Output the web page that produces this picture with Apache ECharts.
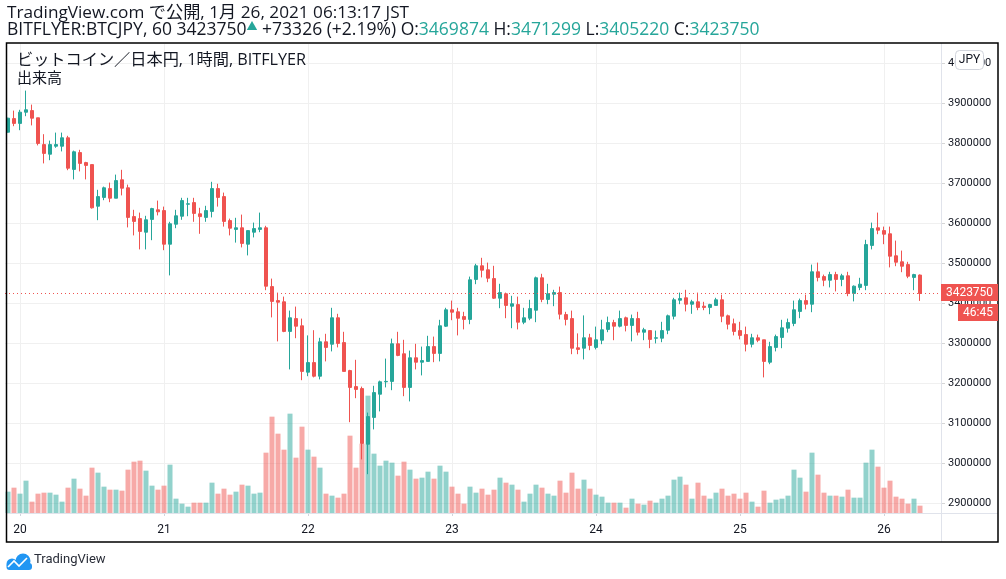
<!DOCTYPE html>
<html>
<head>
<meta charset="utf-8">
<script src="https://cdn.jsdelivr.net/npm/echarts@6/dist/echarts.min.js"></script>
<style>
  html, body { margin: 0; padding: 0; background: #fff; }
  #main { width: 1006px; height: 579px; }
</style>
</head>
<body>
<div id="main"></div>
<script>
// 1時間足 BITFLYER:BTCJPY, 1/19 22:00 〜 1/26 06:00 (JST)
const opens = [
  3827000,3861000,3849000,3877000,3881000,3863000,3796000,3772000,3792000,3792000,
  3813000,3734000,3776000,3751000,3746000,3642000,3664000,3686000,3662000,3708000,
  3688000,3616000,3611000,3577000,3609000,3633000,3631000,3547000,3597000,3617000,
  3647000,3651000,3623000,3614000,3629000,3686000,3666000,3606000,3584000,3588000,
  3547000,3577000,3584000,3588000,3441000,3406000,3403000,3329000,3361000,3343000,
  3227000,3251000,3217000,3303000,3297000,3363000,3301000,3231000,3191000,3186000,
  3047000,3114000,3172000,3203000,3204000,3298000,3273000,3189000,3263000,3252000,
  3254000,3291000,3274000,3342000,3383000,3378000,3366000,3359000,3459000,3493000,
  3483000,3461000,3412000,3423000,3392000,3396000,3352000,3362000,3382000,3463000,
  3409000,3422000,3426000,3371000,3361000,3288000,3287000,3313000,3289000,3307000,
  3334000,3351000,3342000,3363000,3344000,3361000,3327000,3331000,3312000,3312000,
  3332000,3367000,3407000,3413000,3397000,3403000,3392000,3389000,3394000,3408000,
  3368000,3348000,3331000,3321000,3297000,3313000,3308000,3252000,3289000,3314000,
  3337000,3349000,3379000,3406000,3397000,3478000,3466000,3457000,3471000,3459000,
  3468000,3424000,3439000,3444000,3544000,3588000,3581000,3573000,3518000,3503000,
  3496000,3464000,3469874
];
const highs = [
  3863000,3881000,3883000,3931000,3896000,3863000,3822000,3806000,3826000,3826000,
  3818000,3781000,3783000,3753000,3746000,3683000,3691000,3701000,3721000,3733000,
  3696000,3633000,3626000,3618000,3638000,3656000,3641000,3603000,3633000,3663000,
  3663000,3663000,3638000,3643000,3703000,3698000,3676000,3611000,3613000,3621000,
  3581000,3601000,3626000,3593000,3461000,3426000,3416000,3381000,3391000,3361000,
  3319000,3332000,3313000,3323000,3388000,3373000,3328000,3233000,3258000,3191000,
  3126000,3193000,3206000,3261000,3311000,3328000,3308000,3281000,3298000,3291000,
  3318000,3316000,3358000,3388000,3406000,3388000,3378000,3466000,3498000,3513000,
  3501000,3493000,3448000,3426000,3418000,3416000,3388000,3408000,3466000,3473000,
  3448000,3433000,3441000,3378000,3381000,3324000,3369000,3323000,3341000,3358000,
  3366000,3358000,3381000,3366000,3371000,3378000,3338000,3331000,3331000,3353000,
  3371000,3413000,3426000,3433000,3408000,3426000,3403000,3398000,3413000,3421000,
  3371000,3361000,3353000,3341000,3323000,3321000,3308000,3303000,3321000,3358000,
  3361000,3406000,3411000,3421000,3496000,3501000,3471000,3478000,3478000,3473000,
  3478000,3444000,3463000,3558000,3601000,3626000,3591000,3591000,3556000,3531000,
  3503000,3473000,3471299
];
const lows = [
  3826000,3842000,3832000,3867000,3844000,3794000,3749000,3757000,3788000,3779000,
  3732000,3709000,3729000,3709000,3636000,3607000,3657000,3652000,3662000,3669000,
  3589000,3569000,3534000,3534000,3557000,3619000,3532000,3469000,3587000,3608000,
  3617000,3603000,3573000,3603000,3614000,3641000,3591000,3569000,3551000,3539000,
  3519000,3564000,3577000,3432000,3364000,3304000,3327000,3234000,3312000,3207000,
  3217000,3214000,3209000,3254000,3279000,3289000,3229000,3102000,3162000,3009000,
  2972000,3084000,3129000,3189000,3182000,3267000,3167000,3154000,3234000,3219000,
  3254000,3252000,3254000,3340000,3357000,3319000,3334000,3347000,3447000,3464000,
  3452000,3410000,3387000,3362000,3337000,3334000,3347000,3357000,3352000,3402000,
  3397000,3392000,3359000,3344000,3272000,3272000,3259000,3282000,3284000,3297000,
  3327000,3307000,3339000,3329000,3304000,3319000,3307000,3287000,3299000,3302000,
  3322000,3359000,3397000,3379000,3373000,3382000,3382000,3372000,3394000,3352000,
  3334000,3319000,3309000,3279000,3289000,3302000,3214000,3247000,3279000,3287000,
  3326000,3342000,3362000,3384000,3377000,3454000,3442000,3439000,3429000,3442000,
  3417000,3404000,3432000,3432000,3534000,3572000,3547000,3489000,3492000,3477000,
  3462000,3432000,3405220
];
const closes = [
  3862000,3849000,3877000,3883000,3862000,3799000,3774000,3796000,3796000,3813000,
  3737000,3778000,3749000,3744000,3638000,3666000,3688000,3662000,3706000,3687000,
  3614000,3604000,3579000,3608000,3636000,3628000,3547000,3598000,3618000,3656000,
  3648000,3624000,3616000,3631000,3686000,3664000,3604000,3587000,3588000,3549000,
  3581000,3586000,3588000,3442000,3404000,3402000,3329000,3363000,3342000,3229000,
  3251000,3217000,3303000,3289000,3363000,3299000,3229000,3189000,3184000,3049000,
  3116000,3176000,3203000,3204000,3298000,3269000,3189000,3263000,3252000,3256000,
  3291000,3274000,3343000,3383000,3377000,3362000,3359000,3458000,3493000,3482000,
  3462000,3412000,3426000,3394000,3398000,3352000,3363000,3386000,3463000,3409000,
  3423000,3426000,3372000,3359000,3287000,3284000,3313000,3294000,3308000,3333000,
  3351000,3342000,3361000,3344000,3361000,3327000,3333000,3309000,3313000,3331000,
  3368000,3408000,3411000,3397000,3403000,3389000,3389000,3396000,3408000,3367000,
  3347000,3329000,3319000,3297000,3313000,3307000,3254000,3291000,3316000,3338000,
  3351000,3383000,3406000,3397000,3478000,3464000,3457000,3471000,3459000,3468000,
  3424000,3442000,3447000,3546000,3586000,3582000,3572000,3517000,3502000,3492000,
  3467000,3471000,3423750
];
// 出来高 (相対値)
const volumes = [
  64,76,58,97,34,58,61,61,55,34,
  76,103,73,52,136,121,79,70,70,67,
  130,154,157,127,82,70,82,145,43,28,
  19,31,31,31,91,58,73,55,64,85,
  82,58,61,181,289,238,190,298,166,259,
  190,169,136,58,52,46,58,232,136,208,
  352,178,142,157,151,112,154,130,103,106,
  124,103,142,124,79,58,28,79,61,73,
  55,70,106,91,85,70,34,58,85,76,
  58,52,97,61,121,73,100,73,55,49,
  31,31,31,16,43,28,25,37,31,43,
  52,100,109,85,43,91,52,43,61,73,
  52,58,43,61,34,19,67,31,40,43,
  52,130,106,64,181,115,61,52,52,49,
  70,46,46,151,190,139,76,97,49,43,
  28,43,22
];
const lastPrice = 3423750;

// 時間軸: 1/19 22:00 から 1時間ごと (右端に空き3本)
const times = [];
for (let k = 0; k < 156; k++) {
  const h = (22 + k) % 24;
  const d = 19 + Math.floor((22 + k) / 24);
  times.push(d + ' ' + String(h).padStart(2, '0') + ':00');
}
const isMidnight = (idx) => times[idx].endsWith(' 00:00');

const UP = '#26a69a', DOWN = '#ef5350';
const UP_VOL = 'rgba(38,166,154,0.5)', DOWN_VOL = 'rgba(239,83,80,0.5)';
const TEXT = '#131722';
const FONT = 'Roboto, "Noto Sans CJK JP", sans-serif';
const HFONT = '"Open Sans", "Noto Sans CJK JP", sans-serif';

const candleData = closes.map((c, i) => [opens[i], c, lows[i], highs[i]]);
const volData = volumes.map((v, i) => ({
  value: v,
  itemStyle: { color: closes[i] >= opens[i] ? UP_VOL : DOWN_VOL }
}));

const chart = echarts.init(document.getElementById('main'));
chart.setOption({
  animation: false,
  backgroundColor: '#fff',
  textStyle: { fontFamily: FONT },
  grid: [
    { left: 5, top: 63, width: 936, height: 440 },   // price
    { left: 5, top: 363, width: 936, height: 150 },  // volume
    { left: 8, top: 44, width: 930, height: 469 }    // day lines + labels
  ],
  xAxis: [
    { gridIndex: 0, type: 'category', data: times, boundaryGap: true, show: false },
    { gridIndex: 1, type: 'category', data: times, boundaryGap: true, show: false },
    {
      gridIndex: 2, type: 'category', data: times, boundaryGap: false,
      axisLine: { show: false },
      axisTick: { show: true, interval: isMidnight, length: 3, lineStyle: { color: '#d1d4dc' } },
      axisLabel: {
        interval: isMidnight, margin: 11, fontSize: 12, color: TEXT, fontFamily: FONT,
        formatter: (v) => v.split(' ')[0]
      },
      splitLine: { show: true, interval: isMidnight, lineStyle: { color: '#f0f0f0' } }
    }
  ],
  yAxis: [
    {
      gridIndex: 0, type: 'value', position: 'right',
      min: 2900000, max: 4000000, interval: 100000,
      axisLine: { show: false },
      axisTick: { show: true, length: 4, lineStyle: { color: '#d6d6d6' } },
      axisLabel: { margin: 7, fontSize: 11, color: TEXT, fontFamily: FONT, formatter: (v) => String(v) },
      splitLine: { lineStyle: { color: '#f0f0f0' } }
    },
    { gridIndex: 1, type: 'value', min: 0, max: 450, show: false },
    { gridIndex: 2, type: 'value', min: 0, max: 1, show: false }
  ],
  series: [
    {
      type: 'bar', xAxisIndex: 1, yAxisIndex: 1, data: volData,
      barWidth: 5, z: 1, silent: true
    },
    {
      type: 'candlestick', xAxisIndex: 0, yAxisIndex: 0, data: candleData,
      barWidth: 4, z: 3,
      itemStyle: { color: UP, color0: DOWN, borderColor: UP, borderColor0: DOWN, borderWidth: 1 },
      markLine: {
        silent: true, symbol: ['none', 'none'],
        label: { show: false },
        lineStyle: { color: DOWN, type: [1, 3], width: 1 },
        data: [{ yAxis: lastPrice }]
      }
    }
  ],
  graphic: [
    // header
    {
      type: 'text', left: 7, top: 5, z: 10,
      style: { text: 'TradingView.com で公開, 1月 26, 2021 06:13:17 JST', font: '17.2px ' + HFONT, fill: TEXT }
    },
    {
      type: 'text', left: 7, top: 21, z: 10,
      style: {
        text: '{a|BITFLYER:BTCJPY, 60 3423750}{t|▲}{a| +73326 (+2.19%) O:}{v|3469874}{a| H:}{v|3471299}{a| L:}{v|3405220}{a| C:}{v|3423750}',
        rich: {
          a: { fontSize: 17.5, fontFamily: HFONT, fill: TEXT },
          v: { fontSize: 17.5, fontFamily: HFONT, fill: UP },
          t: { fontSize: 11, fontFamily: HFONT, fill: UP, verticalAlign: 'top' }
        }
      }
    },
    // pane frame and separators
    { type: 'rect', z: 10, shape: { x: 6.5, y: 43, width: 991.5, height: 499 }, style: { fill: 'none', stroke: '#000', lineWidth: 1.5 } },
    { type: 'line', z: 9, shape: { x1: 941.5, y1: 43, x2: 941.5, y2: 542 }, style: { stroke: '#e0e3eb', lineWidth: 1 } },
    { type: 'line', z: 9, shape: { x1: 7, y1: 513.5, x2: 998, y2: 513.5 }, style: { stroke: '#e0e3eb', lineWidth: 1 } },
    // pane legend
    { type: 'text', left: 17, top: 52, z: 10, style: { text: 'ビットコイン／日本円, 1時間, BITFLYER', font: '16.2px ' + HFONT, fill: TEXT } },
    { type: 'text', left: 17, top: 71, z: 10, style: { text: '出来高', font: '15px ' + HFONT, fill: TEXT } },
    // currency box
    { type: 'rect', z: 10, shape: { x: 955.5, y: 50.5, width: 28, height: 19, r: 4 }, style: { fill: '#fff', stroke: '#d1d4dc', lineWidth: 1 } },
    { type: 'text', z: 11, x: 969.5, y: 60, style: { text: 'JPY', font: '12px ' + FONT, fill: TEXT, align: 'center', verticalAlign: 'middle' } },
    // last price + countdown
    { type: 'rect', z: 10, shape: { x: 941, y: 284, width: 57, height: 17 }, style: { fill: DOWN } },
    { type: 'text', z: 11, x: 969.5, y: 292.5, style: { text: '3423750', font: '12px ' + FONT, fill: '#fff', align: 'center', verticalAlign: 'middle' } },
    { type: 'rect', z: 10, shape: { x: 958, y: 304, width: 40, height: 17 }, style: { fill: DOWN } },
    { type: 'text', z: 11, x: 978, y: 312.5, style: { text: '46:45', font: '12px ' + FONT, fill: '#fff', align: 'center', verticalAlign: 'middle' } },
    // footer logo
    {
      type: 'group', z: 10, children: [
        { type: 'circle', shape: { cx: 12, cy: 564, r: 5.5 }, style: { fill: '#2196f3' } },
        { type: 'circle', shape: { cx: 23, cy: 561, r: 7.5 }, style: { fill: '#2196f3' } },
        { type: 'rect', shape: { x: 6.5, y: 563, width: 25.5, height: 7, r: 3 }, style: { fill: '#2196f3' } },
        { type: 'polyline', shape: { points: [[8, 567], [14, 561], [19, 566], [27, 558]] }, style: { stroke: '#fff', lineWidth: 1.6, fill: 'none' } }
      ]
    },
    { type: 'text', left: 34, top: 553, z: 10, style: { text: 'TradingView', font: '13px ' + FONT, fill: '#2a2e39' } }
  ]
});
</script>
</body>
</html>
